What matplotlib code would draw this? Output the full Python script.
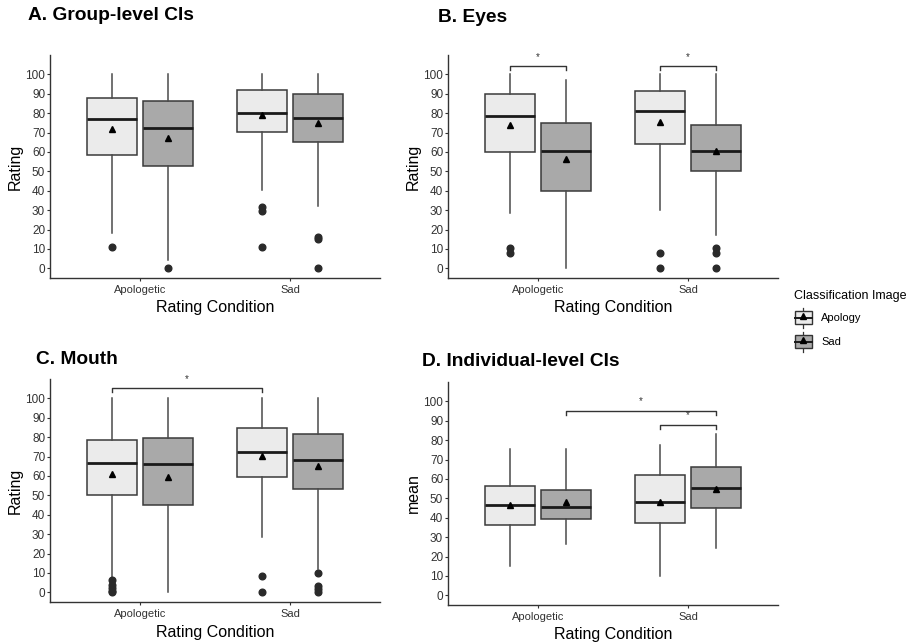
import numpy as np
import matplotlib.pyplot as plt
from matplotlib.legend_handler import HandlerBase
from matplotlib.patches import Patch, Rectangle
from matplotlib.lines import Line2D

plt.rcParams['font.family'] = ['Liberation Sans', 'DejaVu Sans']

conditions = ["Apologetic", "Sad"]
images = ["Apology", "Sad"]
titles = ["A. Group-level CIs", "B. Eyes", "C. Mouth", "D. Individual-level CIs"]
ylabels = ["Rating", "Rating", "Rating", "mean"]

# order of boxes: Apologetic/Apology, Apologetic/Sad, Sad/Apology, Sad/Sad
a_q1 = [58.6, 52.6, 70.2, 65.3]
a_med = [77.0, 72.4, 80.2, 77.4]
a_q3 = [87.8, 86.2, 92.2, 89.8]
a_lo = [18.1, 4.3, 40.2, 32.2]
a_hi = [100, 100, 100, 100]
a_mean = [71.9, 67.2, 79.3, 75.0]
a_fliers = [[11], [0], [31.5, 29.3, 11], [16, 15, 0]]

b_q1 = [60.0, 40.0, 64.3, 50.0]
b_med = [78.8, 60.3, 80.9, 60.3]
b_q3 = [90.0, 75.0, 91.2, 74.0]
b_lo = [28.4, 0, 30.2, 17.2]
b_hi = [100, 97, 100, 100]
b_mean = [74.1, 56.4, 75.5, 60.3]
b_fliers = [[10.3, 7.8], [], [8.1, 0], [10.3, 8.1, 0]]

c_q1 = [50.1, 44.9, 59.3, 53.4]
c_med = [66.6, 66.1, 72.2, 68.2]
c_q3 = [78.8, 79.5, 84.9, 81.7]
c_lo = [7.0, 0, 28.3, 12.2]
c_hi = [100, 100, 100, 100]
c_mean = [60.9, 59.5, 70.4, 65.2]
c_fliers = [[6.2, 4.0, 2.0, 0.5, 0], [], [8.2, 0], [10.1, 3.0, 1.5, 0]]

d_q1 = [36.5, 39.6, 37.2, 44.9]
d_med = [46.6, 45.7, 48.3, 55.1]
d_q3 = [56.3, 54.5, 61.8, 66.1]
d_lo = [15.2, 26.4, 9.8, 24.3]
d_hi = [75.3, 75.3, 77.4, 83.4]
d_mean = [46.4, 47.9, 48.3, 55.0]
d_fliers = [[], [], [], []]

# significance brackets: (from box, to box, height)
a_sig = []
b_sig = [(0, 1, 104.3), (2, 3, 104.3)]
c_sig = [(0, 2, 105.2)]
d_sig = [(1, 3, 95.2), (2, 3, 88.0)]

panels = [
    (a_q1, a_med, a_q3, a_lo, a_hi, a_mean, a_fliers, a_sig),
    (b_q1, b_med, b_q3, b_lo, b_hi, b_mean, b_fliers, b_sig),
    (c_q1, c_med, c_q3, c_lo, c_hi, c_mean, c_fliers, c_sig),
    (d_q1, d_med, d_q3, d_lo, d_hi, d_mean, d_fliers, d_sig),
]

light = '#ebebeb'
dark = '#a9a9a9'
edge = '#3a3a3a'
fills = [light, dark, light, dark]
positions = [1 - 0.1875, 1 + 0.1875, 2 - 0.1875, 2 + 0.1875]

W, H = 918, 643
rects = [(50, 278), (448, 278), (50, 602), (448, 605)]
title_pos = [(28, 16), (438, 17), (36, 359), (422, 362)]

fig = plt.figure(figsize=(W / 100, H / 100), dpi=100)

for i, (q1, med, q3, lo, hi, mean, fliers, sig) in enumerate(panels):
    left, bottom = rects[i]
    ax = fig.add_axes([left / W, 1 - bottom / H, 330 / W, 223 / H])
    stats = []
    for k in range(4):
        stats.append(dict(q1=q1[k], med=med[k], q3=q3[k], whislo=lo[k], whishi=hi[k],
                          mean=mean[k], fliers=fliers[k]))
    bp = ax.bxp(stats, positions=positions, widths=0.3375, patch_artist=True,
                showcaps=False, showmeans=True,
                boxprops=dict(edgecolor=edge, linewidth=1.1),
                whiskerprops=dict(color='#4a4a4a', linewidth=1.1),
                medianprops=dict(color='#1a1a1a', linewidth=2.0),
                meanprops=dict(marker='^', markerfacecolor='black', markeredgecolor='black',
                               markersize=5),
                flierprops=dict(marker='o', markerfacecolor='#2a2a2a', markeredgecolor='#2a2a2a',
                                markersize=4.8))
    for patch, fc in zip(bp['boxes'], fills):
        patch.set_facecolor(fc)
    for a, b, y in sig:
        x1, x2 = positions[a], positions[b]
        ax.plot([x1, x1, x2, x2], [y - 2, y, y, y - 2], color='#333333', lw=1.0)
        ax.text((x1 + x2) / 2, y + 2.2, '*', ha='center', va='bottom', fontsize=7, color='#333333')
    ax.set_xlim(0.4, 2.6)
    ax.set_ylim(-5, 110)
    ax.set_xticks([1, 2])
    ax.set_xticklabels(conditions)
    ax.set_yticks(np.arange(0, 101, 10))
    ax.tick_params(axis='both', labelsize=8, colors='#333333', length=2.5, width=0.8)
    ax.tick_params(axis='y', labelsize=8.5, pad=1)
    ax.tick_params(axis='x', pad=2.5)
    for s in ['top', 'right']:
        ax.spines[s].set_visible(False)
    for s in ['left', 'bottom']:
        ax.spines[s].set_color('#333333')
        ax.spines[s].set_linewidth(1.0)
    ax.set_xlabel("Rating Condition", fontsize=11.5, va='center')
    ax.xaxis.set_label_coords(0.5, -30 / 223)
    ax.set_ylabel(ylabels[i], fontsize=11.5, va='center')
    ax.yaxis.set_label_coords(-35 / 330, 0.5)
    tx, ty = title_pos[i]
    fig.text(tx / W, 1 - ty / H, titles[i], fontsize=13.8, fontweight='bold', ha='left', va='center')


class HandlerBox(HandlerBase):
    def create_artists(self, legend, orig_handle, xdescent, ydescent, width, height, fontsize, trans):
        cx = width / 2 - xdescent
        cy = height / 2 - ydescent
        bw, bh = width * 0.9, height * 0.85
        whisk = Line2D([cx, cx], [cy - height * 0.65, cy + height * 0.65], color='#333333', lw=0.9,
                       transform=trans)
        box = Rectangle((cx - bw / 2, cy - bh / 2), bw, bh, facecolor=orig_handle.get_facecolor(),
                        edgecolor='#333333', lw=1.0, transform=trans)
        medline = Line2D([cx - bw / 2, cx + bw / 2], [cy, cy], color='#1a1a1a', lw=1.4, transform=trans)
        tri = Line2D([cx], [cy + 1], marker='^', color='black', markersize=4, transform=trans)
        return [whisk, box, medline, tri]


handles = [Patch(facecolor=light), Patch(facecolor=dark)]
fig.legend(handles=handles, labels=images, handler_map={Patch: HandlerBox()},
           title="Classification Image", title_fontsize=9, fontsize=8,
           loc='upper left', bbox_to_anchor=(788 / W, 1 - 284 / H), frameon=False,
           alignment='left', borderpad=0, handlelength=1.7, handleheight=1.8,
           handletextpad=0.8, labelspacing=0.75)

fig.savefig('out.png', dpi=100)
